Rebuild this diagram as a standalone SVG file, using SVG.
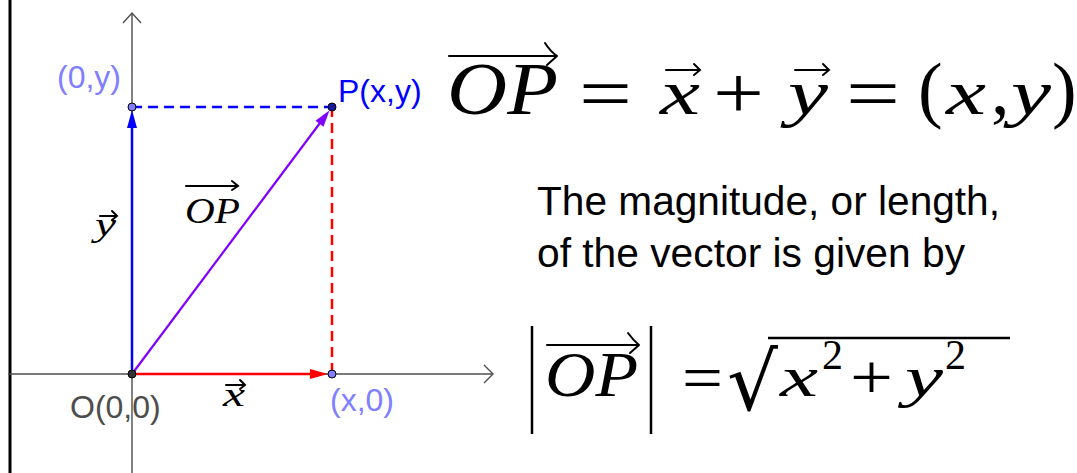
<svg xmlns="http://www.w3.org/2000/svg" width="1077" height="473" viewBox="0 0 1077 473">
<style>
.ax{stroke:#4d4d4d;stroke-width:1.4;fill:none}
.lbl{font-family:"Liberation Sans",Arial,sans-serif;font-size:32px}
.m{font-family:"Liberation Serif","Times New Roman",serif;font-style:italic;fill:#000}
.r{font-family:"Liberation Serif","Times New Roman",serif;fill:#000}
.vec{stroke:#000;stroke-width:2;fill:none;stroke-linecap:round}
.txt{font-family:"Liberation Sans",Arial,sans-serif;font-size:40.5px;fill:#000}
.pt{stroke:#000;stroke-width:1}
</style>
<rect width="1077" height="473" fill="#fff"/>
<line x1="10" y1="0" x2="10" y2="473" stroke="#000" stroke-width="3"/>
<g id="axes">
<line class="ax" x1="132" y1="13" x2="132" y2="473"/>
<polyline class="ax" points="123,23 132,13 141,23"/>
<line class="ax" x1="8" y1="374" x2="493" y2="374"/>
<polyline class="ax" points="484,365 493,374 484,383"/>
</g>
<g id="connectors">
<line x1="132" y1="107" x2="332" y2="107" stroke="#0000ff" stroke-width="2.5" stroke-dasharray="10,6"/>
<line x1="332" y1="107" x2="332" y2="374" stroke="#ff0000" stroke-width="2.5" stroke-dasharray="10,6"/>
<line x1="132" y1="374" x2="132" y2="125" stroke="#0000ff" stroke-width="2.5"/>
<polygon points="132,110 127,128 137,128" fill="#0000ff"/>
<line x1="132" y1="374" x2="313" y2="374" stroke="#ff0000" stroke-width="2.5"/>
<polygon points="328,374 310,369 310,379" fill="#ff0000"/>
<line x1="132" y1="374" x2="320" y2="123" stroke="#7f00ff" stroke-width="2.2"/>
<polygon points="329.6,110.2 323.5,126.7 315.5,120.7" fill="#7f00ff"/>
</g>
<g id="node-O"><circle class="pt" cx="132" cy="374" r="4" fill="#333"/><text class="lbl" x="70" y="418" fill="#4d4d4d">O(0,0)</text></g>
<g id="node-Y"><circle class="pt" cx="132" cy="107" r="4" fill="#7f7fff"/><text class="lbl" x="57" y="88" fill="#7f7fff">(0,y)</text></g>
<g id="node-X"><circle class="pt" cx="332" cy="374" r="4" fill="#7f7fff"/><text class="lbl" x="330" y="411" fill="#7f7fff">(x,0)</text></g>
<g id="node-P"><circle class="pt" cx="332" cy="107" r="4" fill="#1a1aa0"/><text class="lbl" x="338" y="102" fill="#0000ff">P(x,y)</text></g>
<g id="label-x">
<text class="m" x="223" y="406" font-size="34" textLength="22" lengthAdjust="spacingAndGlyphs">x</text>
<path class="vec" d="M226,385 H245 M240,380 L245,385 L240,389" stroke-width="1.5"/>
</g>
<g id="label-y">
<text class="m" x="95" y="236" font-size="34" textLength="21" lengthAdjust="spacingAndGlyphs">y</text>
<path class="vec" d="M100,216 H117 M112,211 L117,216 L112,220" stroke-width="1.5"/>
</g>
<g id="label-OP">
<text class="m" x="185" y="223" font-size="36" textLength="55" lengthAdjust="spacingAndGlyphs">OP</text>
<path class="vec" d="M186,186 H238 M232,181 L238,186 L232,190" stroke-width="1.5"/>
</g>
<g id="eq1">
<text class="m" x="447" y="114" font-size="74" textLength="111" lengthAdjust="spacingAndGlyphs">OP</text>
<path class="vec" d="M449,56 H557 M545,43 Q550,51 557,56 M557,56 L547,65" stroke-width="2.2"/>
<text class="r" x="579" y="118" font-size="74" textLength="53" lengthAdjust="spacingAndGlyphs">=</text>
<text class="m" x="660" y="114" font-size="64" textLength="40" lengthAdjust="spacingAndGlyphs">x</text>
<path class="vec" d="M666,70 H700 M694,64 L700,70 L694,75" stroke-width="2"/>
<text class="r" x="713" y="118" font-size="74" textLength="51" lengthAdjust="spacingAndGlyphs">+</text>
<text class="m" x="788" y="114" font-size="64" textLength="40" lengthAdjust="spacingAndGlyphs">y</text>
<path class="vec" d="M795,70 H829 M823,64 L829,70 L823,75" stroke-width="2"/>
<text class="r" x="846" y="118" font-size="74" textLength="54" lengthAdjust="spacingAndGlyphs">=</text>
<text class="r" x="918" y="114" font-size="74">(</text>
<text class="m" x="946" y="114" font-size="64" textLength="40" lengthAdjust="spacingAndGlyphs">x</text>
<text class="r" x="991" y="114" font-size="74">,</text>
<text class="m" x="1011" y="114" font-size="64" textLength="40" lengthAdjust="spacingAndGlyphs">y</text>
<text class="r" x="1052" y="114" font-size="74">)</text>
</g>
<g id="text-desc">
<text class="txt" x="537" y="215" textLength="463" lengthAdjust="spacingAndGlyphs">The magnitude, or length,</text>
<text class="txt" x="537" y="267" textLength="428" lengthAdjust="spacingAndGlyphs">of the vector is given by</text>
</g>
<g id="eq2">
<line x1="532" y1="326" x2="532" y2="434" stroke="#000" stroke-width="2.5"/>
<text class="m" x="545" y="396" font-size="64" textLength="93" lengthAdjust="spacingAndGlyphs">OP</text>
<path class="vec" d="M547,345 H639 M628,333 Q633,340 639,345 M639,345 L630,353" stroke-width="2"/>
<line x1="651" y1="326" x2="651" y2="434" stroke="#000" stroke-width="2.5"/>
<text class="r" x="682" y="399" font-size="64" textLength="41" lengthAdjust="spacingAndGlyphs">=</text>
<text x="727" y="410" font-family="DejaVu Serif,serif" font-size="80">√</text>
<line x1="768" y1="338" x2="1010" y2="338" stroke="#000" stroke-width="2.5"/>
<text class="m" x="780" y="396" font-size="56" textLength="38" lengthAdjust="spacingAndGlyphs">x</text>
<text class="r" x="822" y="369" font-size="42">2</text>
<text class="r" x="850" y="399" font-size="64" textLength="43" lengthAdjust="spacingAndGlyphs">+</text>
<text class="m" x="905" y="396" font-size="56" textLength="38" lengthAdjust="spacingAndGlyphs">y</text>
<text class="r" x="945" y="369" font-size="42">2</text>
</g>
</svg>
